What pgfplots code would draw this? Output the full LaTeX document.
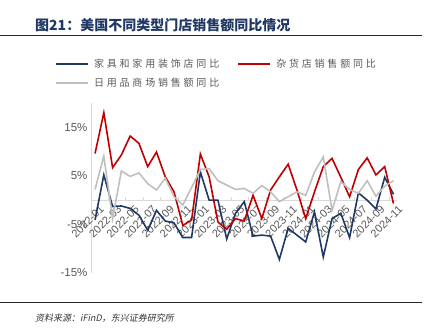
\documentclass[border=0pt]{standalone}
\usepackage{pgfplots}
\pgfplotsset{compat=1.18}
\usepackage{pgfplotstable}
\usepackage{fontspec}
\setmainfont{Liberation Sans}
\newfontfamily\cjk{Noto Sans CJK SC}
\newfontfamily\cjkleg{Noto Sans CJK SC}[LetterSpace=28]
\newfontfamily\cjkit{Noto Sans CJK SC}[FakeSlant=0.2]
\definecolor{navy}{HTML}{203864}
\definecolor{redc}{HTML}{C00000}
\definecolor{grayc}{HTML}{BFBFBF}
\definecolor{titlec}{HTML}{1F3864}
\definecolor{txt}{HTML}{595959}
\definecolor{axc}{HTML}{D9D9D9}
\pgfplotstableread{
i navy red gray
0 -4.1 9.6 2.2
1 5.2 18.0 9.1
2 -1.3 6.7 -3.8
3 -1.2 9.3 6.0
4 -1.7 13.2 4.9
5 -3.1 11.7 5.6
6 -6.2 6.9 3.4
7 -2.1 9.9 2.1
8 -4.3 4.8 4.5
9 -4.7 1.7 0.7
10 -7.7 -5.2 -1.0
11 -7.7 -4.1 2.6
12 5.8 9.5 6.3
13 0.0 4.8 6.5
14 0.0 -4.5 4.0
15 -8.0 -6.0 3.1
16 -2.7 -3.8 2.2
17 -0.3 -4.3 2.4
18 -7.4 1.0 1.4
19 -7.2 -3.8 3.0
20 -7.4 2.1 1.7
21 -12.2 4.8 -0.3
22 -5.8 7.4 0.7
23 -7.2 2.1 1.7
24 -8.6 -3.8 1.0
25 -2.4 1.7 5.8
26 -11.7 6.9 8.9
27 -3.8 8.6 -2.1
28 -2.7 4.7 3.8
29 -7.7 0.7 2.2
30 1.5 6.3 1.4
31 0.0 8.7 4.0
32 -1.8 5.2 0.8
33 4.7 6.9 2.9
34 1.2 -0.7 4.0
}\datatable
\begin{document}
\begin{tikzpicture}[x=1pt,y=1pt]
\path[use as bounding box] (0,0) rectangle (438,333);
\node[anchor=west, inner sep=0, text=titlec, font=\cjk\bfseries\fontsize{14}{16}\selectfont] at (35,308) {图21：美国不同类型门店销售额同比情况};
\draw[line width=0.8pt, black!85] (0,298) -- (422,298);
\draw[line width=0.8pt, black!85] (0,31) -- (422,31);
\node[anchor=west, inner sep=0, text=black!80, font=\cjkit\fontsize{9}{11}\selectfont] at (35,15) {资料来源：iFinD，东兴证券研究所};
\begin{axis}[
  at={(91pt,60pt)}, anchor=south west,
  scale only axis, width=306pt, height=170pt,
  xmin=-0.46, xmax=34.4, ymin=-15, ymax=20,
  axis x line*=middle, axis y line*=left,
  axis line style={draw=axc, line width=0.8pt},
  ytick={-15,-5,5,15},
  yticklabels={-15\%,-5\%,5\%,15\%},
  ytick style={draw=none},
  yticklabel style={font=\fontsize{11.5}{13}\selectfont, text=txt},
  xtick={0,2,...,34},
  xticklabels={2022-01,2022-03,2022-05,2022-07,2022-09,2022-11,2023-01,2023-03,2023-05,2023-07,2023-09,2023-11,2024-01,2024-03,2024-05,2024-07,2024-09,2024-11},
  xtick style={draw=none},
  xticklabel style={font=\fontsize{11}{13}\selectfont, text=txt, rotate=45, anchor=east, inner sep=0pt, yshift=-10pt, xshift=0pt},
  extra x ticks={1.5,3.5,...,33.5},
  extra x tick labels={},
  extra x tick style={xtick style={draw=axc, line width=0.8pt}, tick align=inside},
  major tick length=3pt,
  clip=false,
  legend columns=2,
  legend cell align=left,
  legend style={draw=none, fill=none, at={(axis description cs:-0.118,1.259)}, anchor=north west,
    font=\cjkleg\fontsize{10}{12}\selectfont, text=txt, inner sep=0pt, row sep=9pt,
    nodes={inner sep=0pt, text height=8pt, text depth=2pt},
    /tikz/every odd column/.append style={column sep=5pt},
    /tikz/every even column/.append style={column sep=18pt}},
  legend image code/.code={\draw[#1, line width=2pt] (0pt,0pt) -- (32pt,0pt);},
]
\addplot[navy, line width=1.6pt] table[x=i, y=navy] {\datatable};
\addlegendentry{家具和家用装饰店同比}
\addplot[redc, line width=1.6pt] table[x=i, y=red] {\datatable};
\addlegendentry{杂货店销售额同比}
\addplot[grayc, line width=1.6pt] table[x=i, y=gray] {\datatable};
\addlegendentry{日用品商场销售额同比}
\end{axis}
\end{tikzpicture}
\end{document}
